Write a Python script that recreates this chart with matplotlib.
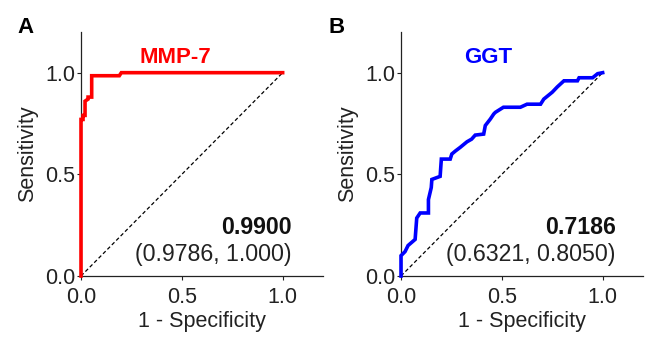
import matplotlib
matplotlib.use('Agg')
import matplotlib.pyplot as plt

plt.rcParams['font.family'] = ['Liberation Sans', 'DejaVu Sans']

# ROC curve points (1 - specificity, sensitivity)
mmp7_fpr = [0, 0, 0.01, 0.01, 0.02, 0.02, 0.035, 0.035, 0.053, 0.053, 0.19, 0.2, 1.0]
mmp7_tpr = [0, 0.77, 0.77, 0.79, 0.79, 0.86, 0.87, 0.88, 0.88, 0.985, 0.985, 1.0, 1.0]

ggt_fpr = [0, 0, 0.02, 0.035, 0.07, 0.078, 0.095, 0.136, 0.136, 0.15, 0.153, 0.194, 0.2,
           0.244, 0.252, 0.27, 0.294, 0.327, 0.35, 0.368, 0.41, 0.418, 0.443, 0.46, 0.468,
           0.508, 0.592, 0.625, 0.692, 0.708, 0.75, 0.775, 0.808, 0.875, 0.883, 0.95,
           0.975, 1.0]
ggt_tpr = [0, 0.10, 0.12, 0.15, 0.18, 0.285, 0.31, 0.31, 0.376, 0.435, 0.475, 0.49, 0.575,
           0.575, 0.60, 0.615, 0.633, 0.66, 0.673, 0.693, 0.698, 0.74, 0.772, 0.797, 0.805,
           0.83, 0.83, 0.845, 0.845, 0.87, 0.904, 0.93, 0.96, 0.96, 0.975, 0.975,
           0.995, 1.0]

panels = ['A', 'B']
markers = ['MMP-7', 'GGT']
colors = ['#ff0000', '#0000ff']
auc_text = ['0.9900', '0.7186']
ci_text = ['(0.9786, 1.000)', '(0.6321, 0.8050)']
label_x = [0.47, 0.43]
text_right = [1.045, 1.065]
ticks = [0.0, 0.5, 1.0]

fig = plt.figure(figsize=(6.47, 3.37), dpi=100)
axes = [fig.add_axes([0.1252, 0.181, 0.374, 0.724]),
        fig.add_axes([0.6198, 0.181, 0.374, 0.724])]

curves = [(mmp7_fpr, mmp7_tpr), (ggt_fpr, ggt_tpr)]

for i, ax in enumerate(axes):
    fpr, tpr = curves[i]
    ax.plot([0, 1], [0, 1], color='black', lw=0.9, dashes=(3, 2))
    ax.plot(fpr, tpr, color=colors[i], lw=2.6, solid_joinstyle='miter', clip_on=False, zorder=3)
    ax.set_xlim(0, 1.2)
    ax.set_ylim(0, 1.2)
    ax.set_xticks(ticks)
    ax.set_yticks(ticks)
    ax.set_xticklabels(['0.0', '0.5', '1.0'])
    ax.set_yticklabels(['0.0', '0.5', '1.0'])
    ax.tick_params(direction='out', length=3, width=0.8, labelsize=15.5,
                   colors='#222222', labelcolor='#222222')
    ax.tick_params(axis='x', pad=5)
    ax.tick_params(axis='y', pad=1)
    for side in ['top', 'right']:
        ax.spines[side].set_visible(False)
    for side in ['left', 'bottom']:
        ax.spines[side].set_linewidth(0.9)
        ax.spines[side].set_color('#222222')
    ax.set_xlabel('1 - Specificity', fontsize=15.5, color='#222222', labelpad=2)
    ax.set_ylabel('Sensitivity', fontsize=15.5, color='#222222', labelpad=5)
    ax.text(label_x[i], 1.075, markers[i], color=colors[i], fontsize=16, fontweight='bold',
            ha='center', va='center')
    ax.text(text_right[i], 0.24, auc_text[i], fontsize=16.7, fontweight='bold',
            ha='right', va='center', color='#111111')
    ax.text(text_right[i], 0.104, ci_text[i], fontsize=16.7,
            ha='right', va='center', color='#222222')

fig.text(17 / 647, 1 - 33 / 337, panels[0], fontsize=16, fontweight='bold', ha='left', va='baseline')
fig.text(328 / 647, 1 - 33 / 337, panels[1], fontsize=16, fontweight='bold', ha='left', va='baseline')

fig.savefig('out.png', dpi=100)
